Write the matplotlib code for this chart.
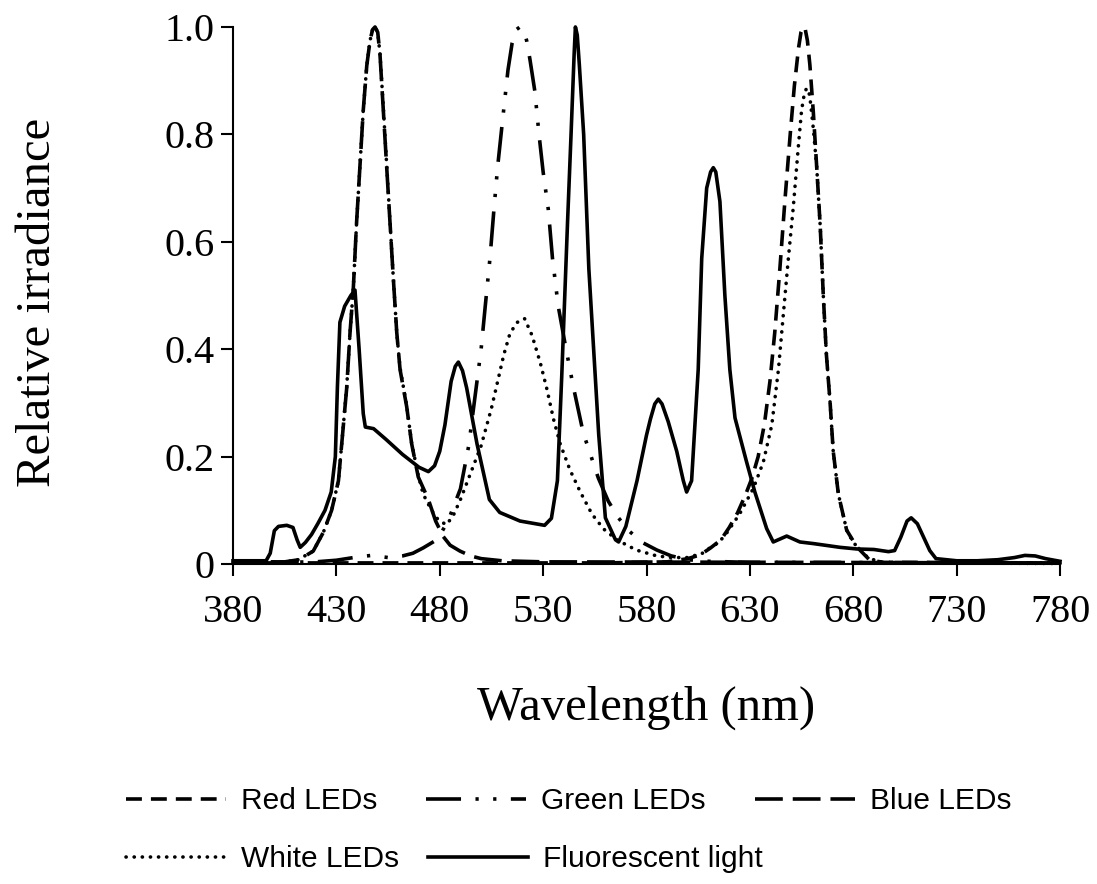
import matplotlib.pyplot as plt
from matplotlib.lines import Line2D

red_wl = [380, 560, 590, 600, 606, 611, 616, 620, 624, 628, 631, 634, 637, 639.7, 642, 644.5,
          647, 649.5, 651.5, 653.5, 654.7, 655.8, 656.8, 657.8, 659, 660.7, 662.3, 664, 665.5,
          667, 668.8, 670.3, 672.8, 676.8, 681.7, 688, 695, 780]
red_val = [0.002, 0.002, 0.004, 0.01, 0.017, 0.03, 0.045, 0.068, 0.095, 0.13, 0.16, 0.2, 0.26,
           0.34, 0.43, 0.55, 0.68, 0.8, 0.89, 0.96, 0.99, 1.0, 0.995, 0.975, 0.93, 0.84, 0.74,
           0.63, 0.5, 0.39, 0.3, 0.21, 0.13, 0.063, 0.032, 0.007, 0.003, 0.002]

green_wl = [380, 420, 430, 440, 447, 455, 462, 467, 472, 478.5, 481, 484, 487, 490, 494, 497,
            500, 502, 504.3, 506.2, 508, 510.2, 513, 515, 517, 518.8, 520.5, 522, 523.6, 526,
            528, 530, 532.5, 534.5, 537.3, 540.6, 544.6, 549.4, 556.7, 561.5, 566.4, 572, 578,
            585, 592, 600, 610, 630, 780]
green_val = [0.002, 0.004, 0.007, 0.013, 0.016, 0.012, 0.015, 0.02, 0.03, 0.045, 0.06, 0.08,
             0.11, 0.14, 0.22, 0.31, 0.4, 0.48, 0.57, 0.66, 0.74, 0.82, 0.92, 0.97, 0.995, 1.0,
             0.995, 0.975, 0.94, 0.88, 0.8, 0.73, 0.66, 0.57, 0.48, 0.41, 0.33, 0.244, 0.16,
             0.117, 0.086, 0.06, 0.04, 0.026, 0.015, 0.008, 0.005, 0.003, 0.002]

blue_wl = [380, 405, 412, 418.8, 423.7, 427.7, 431, 433.4, 435, 436.6, 438.2, 439.8, 441.4, 443,
           444.7, 446.3, 447.5, 448.7, 450, 451.1, 452.7, 454.3, 455.9, 457.5, 459.2, 460.8, 464,
           466.4, 469.6, 474.5, 478, 481.7, 485, 489.8, 495, 500, 510, 530, 780]
blue_val = [0.004, 0.004, 0.008, 0.024, 0.059, 0.1, 0.155, 0.259, 0.328, 0.431, 0.514, 0.638,
            0.741, 0.845, 0.928, 0.975, 0.995, 1.0, 0.99, 0.948, 0.845, 0.741, 0.638, 0.534,
            0.431, 0.362, 0.293, 0.224, 0.162, 0.12, 0.08, 0.051, 0.035, 0.024, 0.015, 0.01,
            0.006, 0.004, 0.002]

white_wl = [380, 405, 411, 418.8, 423.7, 427.7, 431, 433.4, 435, 436.6, 438.2, 439.8, 441.4, 443,
            444.7, 446.3, 447.5, 448.7, 450, 451.1, 452.7, 454.3, 455.9, 457.5, 459.2, 460.8, 464,
            466.4, 469.6, 472, 476, 479.3, 483.2, 486.5, 490, 495, 500, 505, 508, 511, 514, 517.5,
            521, 524.6, 528.6, 531.8, 535, 538.3, 543, 548, 553.6, 559.3, 565.7, 575, 585, 592,
            600, 607, 611, 615, 619, 622, 625, 631.7, 636.5, 640.6, 643.8, 646.2, 648.6, 651,
            653.4, 655, 656.3, 657.4, 658.3, 659, 660.7, 662.3, 664, 665.5, 667, 668.8, 670.3,
            672.8, 676.8, 680, 686.5, 692, 700, 780]
white_val = [0.002, 0.004, 0.007, 0.024, 0.059, 0.1, 0.155, 0.259, 0.33, 0.43, 0.514, 0.638,
             0.741, 0.845, 0.928, 0.975, 0.995, 1.0, 0.99, 0.95, 0.85, 0.745, 0.64, 0.535, 0.43,
             0.365, 0.295, 0.225, 0.165, 0.13, 0.1, 0.082, 0.073, 0.09, 0.12, 0.17, 0.22, 0.29,
             0.34, 0.39, 0.43, 0.45, 0.457, 0.426, 0.375, 0.326, 0.27, 0.223, 0.175, 0.134,
             0.093, 0.065, 0.045, 0.026, 0.015, 0.012, 0.012, 0.02, 0.031, 0.04, 0.059, 0.076,
             0.093, 0.141, 0.19, 0.259, 0.362, 0.466, 0.569, 0.665, 0.776, 0.845, 0.875, 0.886,
             0.882, 0.87, 0.81, 0.74, 0.63, 0.5, 0.39, 0.3, 0.21, 0.13, 0.063, 0.04, 0.014,
             0.004, 0.002, 0.001]

fluor_wl = [380, 396, 398, 400, 402, 406, 409, 411, 412.5, 415, 418, 421, 424.5, 427.5, 429.5,
            430.5, 431.7, 434, 437, 439, 441, 443, 444, 448, 454, 462, 470, 474.5, 477.5, 480,
            482.5, 485.5, 487.5, 489, 491, 493, 498, 504, 509, 518.8, 530.7, 534, 536.9, 539,
            541.8, 543.5, 545, 545.6, 546.5, 547.5, 549.6, 552.1, 556.9, 560.1, 565, 566.5, 570,
            575.4, 580, 581.9, 584, 585.7, 587.5, 590.5, 594.6, 597.8, 599.4, 601.8, 605, 606.7,
            609.1, 611, 612.3, 613.5, 615.5, 617.9, 620.3, 622.8, 628.4, 632.4, 638.1, 641.3,
            647.8, 654.2, 660.7, 673.6, 681.7, 690, 697, 700, 703, 706, 708, 711, 714, 717, 720,
            730, 740, 750, 758, 763, 768, 773, 780]
fluor_val = [0.006, 0.006, 0.02, 0.062, 0.07, 0.072, 0.068, 0.045, 0.031, 0.04, 0.055, 0.075,
             0.1, 0.134, 0.2, 0.33, 0.45, 0.48, 0.5, 0.51, 0.4, 0.28, 0.255, 0.252, 0.232, 0.204,
             0.18, 0.172, 0.183, 0.21, 0.259, 0.34, 0.368, 0.376, 0.36, 0.328, 0.224, 0.12,
             0.096, 0.08, 0.072, 0.085, 0.155, 0.35, 0.636, 0.8, 0.95, 1.0, 0.985, 0.93, 0.8,
             0.55, 0.24, 0.086, 0.045, 0.041, 0.07, 0.155, 0.24, 0.27, 0.298, 0.307, 0.298,
             0.265, 0.21, 0.155, 0.134, 0.155, 0.362, 0.569, 0.7, 0.73, 0.738, 0.73, 0.675, 0.5,
             0.362, 0.272, 0.19, 0.134, 0.066, 0.041, 0.052, 0.041, 0.038, 0.031, 0.028, 0.027,
             0.023, 0.025, 0.05, 0.08, 0.086, 0.075, 0.05, 0.025, 0.01, 0.006, 0.006, 0.008,
             0.012, 0.016, 0.015, 0.01, 0.005]

plt.rcParams["font.family"] = "Liberation Serif"

lw = 2.6
styles = {
    'Red LEDs': dict(linestyle=(0, (4.4, 2.5))),
    'Green LEDs': dict(linestyle=(0, (9.7, 4, 0.9, 4, 0.9, 4))),
    'Blue LEDs': dict(linestyle=(0, (7.7, 2.75))),
    'White LEDs': dict(linestyle=(0, (0.05, 2.2)), dash_capstyle='round'),
    'Fluorescent light': dict(linestyle='-'),
}
curves = [('Red LEDs', red_wl, red_val),
          ('Green LEDs', green_wl, green_val),
          ('Blue LEDs', blue_wl, blue_val),
          ('White LEDs', white_wl, white_val),
          ('Fluorescent light', fluor_wl, fluor_val)]

fig = plt.figure(figsize=(10.97, 8.84), dpi=100)
ax = fig.add_axes([0.2124, 0.3620, 0.7539, 0.6075])

for name, wl, val in curves:
    ax.plot(wl, val, color='black', lw=lw, clip_on=False, **styles[name])

ax.set_xlim(380, 780)
ax.set_ylim(0, 1.0)
ax.set_xticks(range(380, 781, 50))
ax.set_yticks([0, 0.2, 0.4, 0.6, 0.8, 1.0])
ax.set_yticklabels(['0', '0.2', '0.4', '0.6', '0.8', '1.0'])
ax.tick_params(direction='out', length=8.3, width=1.5, labelsize=29)
ax.tick_params(axis='x', pad=13)
ax.tick_params(axis='y', pad=5)
for side in ['top', 'right']:
    ax.spines[side].set_visible(False)
for side in ['left', 'bottom']:
    ax.spines[side].set_linewidth(1.5)

fig.text(38 / 1097, 1 - 302 / 884, 'Relative irradiance', rotation=90,
         ha='center', va='center', fontsize=35)
fig.text(646 / 1097, 1 - 708 / 884, 'Wavelength (nm)', ha='center', va='center', fontsize=35)

# legend in two rows, laid out like the original
def handle(name):
    return Line2D([], [], color='black', lw=lw, **styles[name])

leg_kw = dict(frameon=False, borderpad=0, borderaxespad=0, handlelength=3.35,
              handletextpad=0.5, loc='center left',
              prop={'family': 'Liberation Sans', 'size': 21.5})
row1 = ['Red LEDs', 'Green LEDs', 'Blue LEDs']
row2 = ['White LEDs', 'Fluorescent light']
leg1 = fig.legend([handle(n) for n in row1], row1, ncol=3, columnspacing=1.64,
                  bbox_to_anchor=(126 / 1097, 1 - 801 / 884), **leg_kw)
leg2 = fig.legend([handle(n) for n in row2], row2, ncol=2, columnspacing=0.97,
                  bbox_to_anchor=(126 / 1097, 1 - 859 / 884), **leg_kw)

fig.savefig('out.png', dpi=100)
